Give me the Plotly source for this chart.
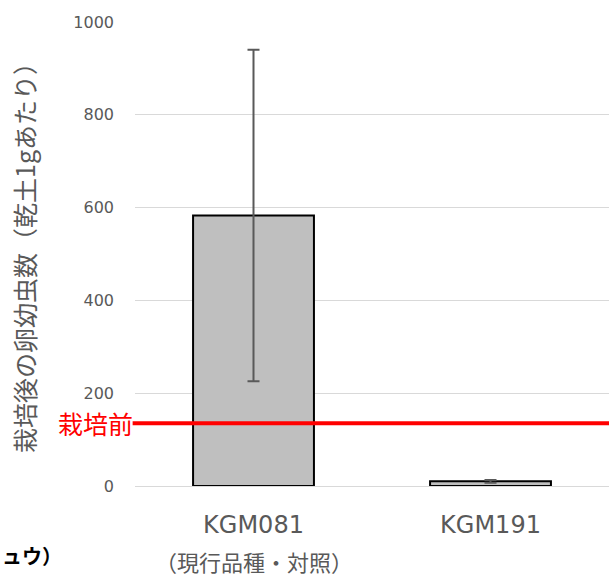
import plotly.graph_objects as go

categories = ["KGM081", "KGM191"]
sublabels = ["（現行品種・対照）", ""]
values = [583, 10]
errors = [357, 3]
before_value = 135
y_ticks = [0, 200, 400, 600, 800, 1000]

FONT = "Noto Sans CJK JP, Meiryo, sans-serif"
LATIN = "DejaVu Sans, Verdana, sans-serif"
W, H = 609, 577
L, R, T, B = 135, 0, 22, 91
pw = W - L - R

fig = go.Figure()
fig.add_trace(go.Bar(
    x=categories, y=values, width=0.51,
    marker=dict(color=["#bfbfbf", "#bfbfbf"], line=dict(color="black", width=2)),
    error_y=dict(type="data", array=errors, visible=True, color="#595959", thickness=2, width=6),
    showlegend=False,
))

fig.add_shape(type="line", xref="paper", yref="y", x0=-0.005, x1=1, y0=before_value, y1=before_value,
              line=dict(color="#ff0000", width=4))
fig.add_annotation(xref="paper", yref="y", x=-0.005, y=before_value, text="栽培前", showarrow=False,
                   xanchor="right", yanchor="middle", xshift=2, font=dict(family=FONT, size=25, color="#ff0000"))

for c, s in zip(categories, sublabels):
    if s:
        fig.add_annotation(xref="x", yref="paper", x=c, y=-(561 - 486) / (486 - 22), text=s, showarrow=False,
                           xanchor="center", yanchor="middle", borderpad=0,
                           font=dict(family=FONT, size=22, color="#595959"))

fig.add_annotation(xref="paper", yref="paper", x=(24 - L) / pw, y=0.5 + 2 / 464, text="栽培後の卵幼虫数（乾土1gあたり）",
                   textangle=-90, showarrow=False, xanchor="center", yanchor="middle",
                   font=dict(family=FONT, size=25, color="#595959"))
fig.add_annotation(xref="paper", yref="paper", x=(0 - L) / pw, y=-(555 - 486) / 464, text="<b>ュウ）</b>",
                   showarrow=False, xanchor="left", yanchor="middle",
                   font=dict(family=FONT, size=20, color="black"))

fig.update_layout(
    width=W, height=H, margin=dict(l=L, r=R, t=T, b=B),
    paper_bgcolor="white", plot_bgcolor="white",
    font=dict(family=FONT, color="#595959"),
)
fig.update_xaxes(range=[-0.5, 1.5], showgrid=False, showline=False, ticks="",
                 tickfont=dict(family=LATIN, size=24, color="#595959"), ticklabelstandoff=22)
fig.update_yaxes(range=[0, 1000], tickvals=y_ticks, showgrid=True, gridcolor="#d9d9d9", gridwidth=1,
                 zeroline=True, zerolinecolor="#d9d9d9", zerolinewidth=1, showline=False, ticks="",
                 tickfont=dict(family=LATIN, size=16, color="#595959"), ticklabelstandoff=20)

fig.write_html("out.html")
